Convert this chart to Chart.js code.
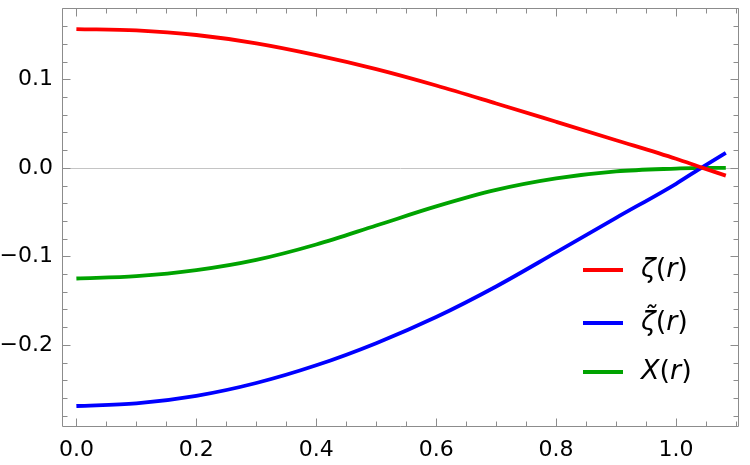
<!DOCTYPE html>
<html><head><meta charset="utf-8">
<script src="https://cdn.jsdelivr.net/npm/chart.js@4.4.1/dist/chart.umd.min.js"></script>
<style>html,body{margin:0;padding:0;background:#fff}#wrap{width:750px;height:465px;position:relative}</style>
</head><body><div id="wrap"><canvas id="c"></canvas></div>
<script>
// ---- data ----
const rValues   = [0, 0.1, 0.2, 0.3, 0.4, 0.5, 0.6, 0.7, 0.8, 0.9, 1.0, 1.042, 1.083];
const zeta      = [0.1567, 0.1552, 0.1500, 0.1406, 0.1273, 0.1115, 0.0930, 0.0727, 0.0520, 0.0312, 0.0102, 0.0005, -0.0088];
const zetaTilde = [-0.2690, -0.2660, -0.2575, -0.2430, -0.2230, -0.1980, -0.1685, -0.1340, -0.0955, -0.0565, -0.0180, 0.0, 0.0170];
const chi       = [-0.1250, -0.1224, -0.1156, -0.1040, -0.0866, -0.0652, -0.0436, -0.0250, -0.0120, -0.0040, -0.0008, 0.0, 0.0];
const seriesNames  = ['\u03B6', '\u03B6\u0303', 'X'];
const seriesColors = ['#ff0000', '#0000ff', '#00a300'];
const xTickValues = [0, 0.2, 0.4, 0.6, 0.8, 1.0];
const xTickLabels = ['0.0', '0.2', '0.4', '0.6', '0.8', '1.0'];
const yTickValues = [-0.2, -0.1, 0.0, 0.1];
const yTickLabels = ['\u22120.2', '\u22120.1', '0.0', '0.1'];

const toPts = arr => rValues.map((r, i) => ({x: r, y: arr[i]}));
const seriesData = [zeta, zetaTilde, chi];

const FONT = "'DejaVu Sans', 'Liberation Sans', sans-serif";

const frameTicks = {
  id: 'frameTicks',
  beforeDatasetsDraw(chart) {
    const {ctx, chartArea: a, scales: {y}} = chart;
    ctx.save();
    const y0 = Math.round(y.getPixelForValue(0)) + 0.5;
    ctx.strokeStyle = '#c4c4c4';
    ctx.lineWidth = 1;
    ctx.beginPath(); ctx.moveTo(a.left, y0); ctx.lineTo(a.right, y0); ctx.stroke();
    ctx.restore();
  },
  afterDatasetsDraw(chart) {
    const {ctx, chartArea: a, scales: {x, y}} = chart;
    ctx.save();
    ctx.strokeStyle = '#8c8c8c';
    ctx.lineWidth = 1;
    const L = a.left + 0.5, R = a.right - 0.5, T = a.top + 0.5, B = a.bottom - 0.5;
    ctx.beginPath();
    ctx.rect(L, T, R - L, B - T);
    ctx.stroke();
    ctx.beginPath();
    for (let k = 0; k <= 22; k++) {
      const v = k * 0.05;
      const px = Math.round(x.getPixelForValue(v)) + 0.5;
      if (px < a.left || px > a.right) continue;
      const len = (k % 4 === 0) ? 8 : 5;
      ctx.moveTo(px, B); ctx.lineTo(px, B - len);
      ctx.moveTo(px, T); ctx.lineTo(px, T + len);
    }
    for (let k = -15; k <= 9; k++) {
      const v = k * 0.02;
      const py = Math.round(y.getPixelForValue(v)) + 0.5;
      if (py < a.top || py > a.bottom) continue;
      const len = (k % 5 === 0) ? 8 : 5;
      ctx.moveTo(L, py); ctx.lineTo(L + len, py);
      ctx.moveTo(R, py); ctx.lineTo(R - len, py);
    }
    ctx.stroke();
    ctx.restore();
  }
};

const mathLegend = {
  id: 'mathLegend',
  afterDraw(chart) {
    const {ctx} = chart;
    ctx.save();
    const lineX0 = 583, lineX1 = 623, textX = 641;
    const rowsY = [270, 323, 372];
    const size = 27;
    chart.data.datasets.forEach((ds, i) => {
      const yy = rowsY[i];
      ctx.strokeStyle = ds.borderColor;
      ctx.lineWidth = 3.8;
      ctx.beginPath(); ctx.moveTo(lineX0, yy); ctx.lineTo(lineX1, yy); ctx.stroke();
      ctx.fillStyle = '#000';
      ctx.textBaseline = 'middle';
      ctx.textAlign = 'left';
      const parts = [[seriesNames[i], true], ['(', false], ['r', true], [')', false]];
      let xx = textX;
      parts.forEach(([s, it]) => {
        ctx.font = (it ? 'italic ' : '') + size + 'px ' + FONT;
        ctx.fillText(s, xx, yy);
        xx += ctx.measureText(s).width;
      });
    });
    ctx.restore();
  }
};

new Chart(document.getElementById('c'), {
  type: 'line',
  data: {
    datasets: seriesData.map((arr, i) => ({
      label: seriesNames[i] + '(r)',
      data: toPts(arr),
      borderColor: seriesColors[i],
      backgroundColor: seriesColors[i],
      borderWidth: 3.8,
      pointRadius: 0,
      cubicInterpolationMode: 'monotone',
      fill: false
    }))
  },
  options: {
    responsive: true,
    maintainAspectRatio: false,
    animation: false,
    devicePixelRatio: 1,
    layout: {padding: {left: 0, right: 11, top: 8, bottom: 0}},
    plugins: {legend: {display: false}, tooltip: {enabled: false}},
    scales: {
      x: {
        type: 'linear', min: -0.024, max: 1.105,
        border: {display: false},
        grid: {display: false, drawTicks: false},
        afterBuildTicks: s => { s.ticks = xTickValues.map(v => ({value: v})); },
        afterFit: s => { s.height = 38; s.paddingLeft = 0; s.paddingRight = 0; },
        ticks: {
          padding: 10, color: '#000', maxRotation: 0, autoSkip: false,
          font: {family: FONT, size: 22},
          callback: (v) => { const i = xTickValues.findIndex(t => Math.abs(t - v) < 1e-9); return i >= 0 ? xTickLabels[i] : ''; }
        }
      },
      y: {
        type: 'linear', min: -0.2927, max: 0.1805,
        border: {display: false},
        grid: {display: false, drawTicks: false},
        afterBuildTicks: s => { s.ticks = yTickValues.map(v => ({value: v})); },
        afterFit: s => { s.width = 62; s.paddingTop = 0; s.paddingBottom = 0; },
        ticks: {
          padding: 9, color: '#000', autoSkip: false,
          font: {family: FONT, size: 22},
          callback: (v) => { const i = yTickValues.findIndex(t => Math.abs(t - v) < 1e-9); return i >= 0 ? yTickLabels[i] : ''; }
        }
      }
    }
  },
  plugins: [frameTicks, mathLegend]
});
</script>
</body></html>
